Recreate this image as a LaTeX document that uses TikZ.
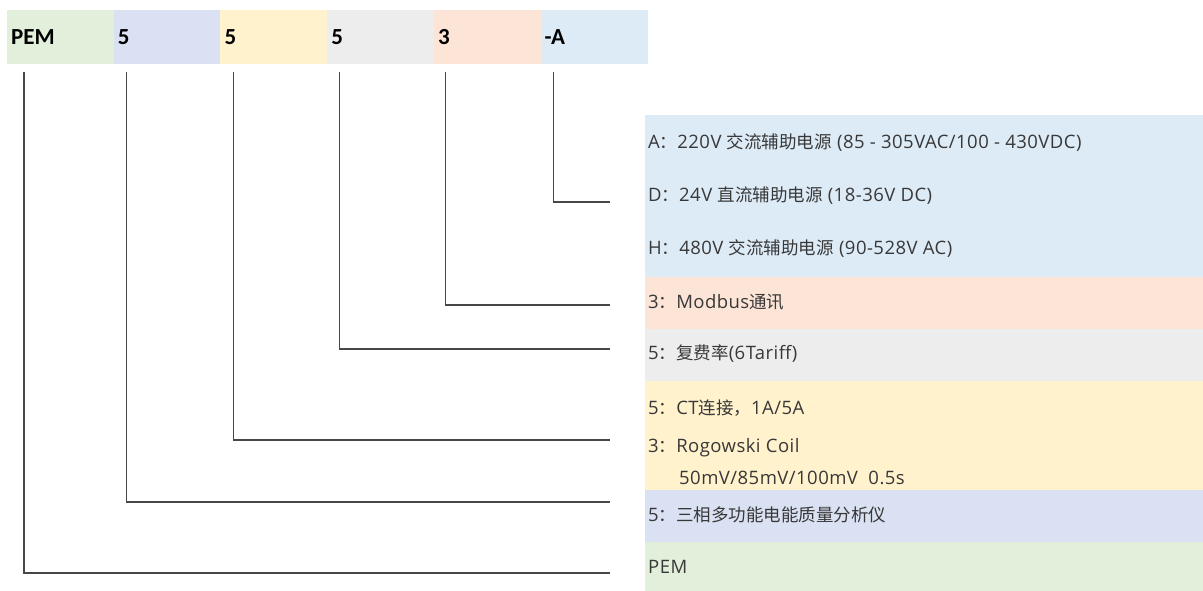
\documentclass[tikz,border=0pt]{standalone}
\usepackage{fontspec}
\setmainfont{Carlito}
\newfontfamily\cjk{Noto Sans CJK SC}[Scale=0.946]
\newfontfamily\latn{Open Sans}[LetterSpace=2.5]
\newcommand{\zh}[1]{{\cjk #1}}
\usetikzlibrary{positioning}
\definecolor{pemgreen}{HTML}{E2EFDA}
\definecolor{phaseblue}{HTML}{D9E1F2}
\definecolor{ctyellow}{HTML}{FFF2CC}
\definecolor{tarifgray}{HTML}{EDEDED}
\definecolor{compink}{HTML}{FCE4D6}
\definecolor{auxblue}{HTML}{DDEBF7}
\tikzstyle{cell}=[text width=98.3pt, inner xsep=4pt, inner ysep=0pt, minimum height=53pt, align=left, line width=0.4pt, font=\bfseries\fontsize{23}{25}\selectfont]
\tikzstyle{band}=[minimum width=558pt, inner sep=0pt, line width=0.4pt]
\tikzstyle{item}=[anchor=west, inner xsep=3pt, font=\latn\fontsize{18.5}{21}\selectfont, text=black!78]
\tikzstyle{link}=[draw=black!72, line width=1.1pt, shorten >=35pt]

\begin{document}
\begin{tikzpicture}[x=1pt,y=-1pt]
\useasboundingbox (0,0) rectangle (1203,590);

% code bar
\node (pem) [cell, fill=pemgreen, draw=pemgreen, anchor=north west] at (7,10) {PEM};
\node (phase) [cell, fill=phaseblue, draw=phaseblue, right=0pt of pem] {5};
\node (ct) [cell, fill=ctyellow, draw=ctyellow, right=0pt of phase] {5};
\node (tarif) [cell, fill=tarifgray, draw=tarifgray, right=0pt of ct] {5};
\node (com) [cell, fill=compink, draw=compink, right=0pt of tarif] {3};
\node (aux) [cell, fill=auxblue, draw=auxblue, right=0pt of com] {-A};

% option bands
\node (bandaux) [band, fill=auxblue, draw=auxblue, minimum height=162pt, anchor=north west] at (645,115) {};
\node (bandcom) [band, fill=compink, draw=compink, minimum height=51pt, below=0pt of bandaux] {};
\node (bandtarif) [band, fill=tarifgray, draw=tarifgray, minimum height=52pt, below=0pt of bandcom] {};
\node (bandct) [band, fill=ctyellow, draw=ctyellow, minimum height=108pt, below=0pt of bandtarif] {};
\node (bandphase) [band, fill=phaseblue, draw=phaseblue, minimum height=52pt, below=0pt of bandct] {};
\node (bandpem) [band, fill=pemgreen, draw=pemgreen, minimum height=50pt, below=0pt of bandphase] {};

\node (tA) [item] at (645,143) {A\zh{：}220V \zh{交流辅助电源} (85 - 305VAC/100 - 430VDC)};
\node (tD) [item] at (645,196) {D\zh{：}24V \zh{直流辅助电源} (18-36V DC)};
\node (tH) [item] at (645,249) {H\zh{：}480V \zh{交流辅助电源} (90-528V AC)};
\node (tM) [item] at (645,302) {3\zh{：}Modbus\zh{通讯}};
\node (tT) [item] at (645,354) {5\zh{：复费率}(6Tariff)};
\node (tC) [item] at (645,408) {5\zh{：}CT\zh{连接，}1A/5A};
\node (tR) [item] at (645,448) {3\zh{：}Rogowski Coil};
\node (tR2) [item] at (676,478) {50mV/85mV/100mV\ \ 0.5s};
\node (tP) [item] at (645,515) {5\zh{：三相多功能电能质量分析仪}};
\node (tE) [item] at (645,567) {PEM};

% connectors
\draw[link] ([xshift=13pt,yshift=-9pt]aux.south west) |- ([yshift=-6pt]tD.west);
\draw[link] ([xshift=12pt,yshift=-9pt]com.south west) |- ([yshift=-3pt]tM.west);
\draw[link] ([xshift=12pt,yshift=-9pt]tarif.south west) |- ([yshift=5pt]tT.west);
\draw[link] ([xshift=13pt,yshift=-9pt]ct.south west) |- ([yshift=8pt]tR.west);
\draw[link] ([xshift=13pt,yshift=-9pt]phase.south west) |- ([yshift=13pt]tP.west);
\draw[link] ([xshift=17pt,yshift=-9pt]pem.south west) |- ([yshift=-6pt]tE.west);
\end{tikzpicture}
\end{document}
